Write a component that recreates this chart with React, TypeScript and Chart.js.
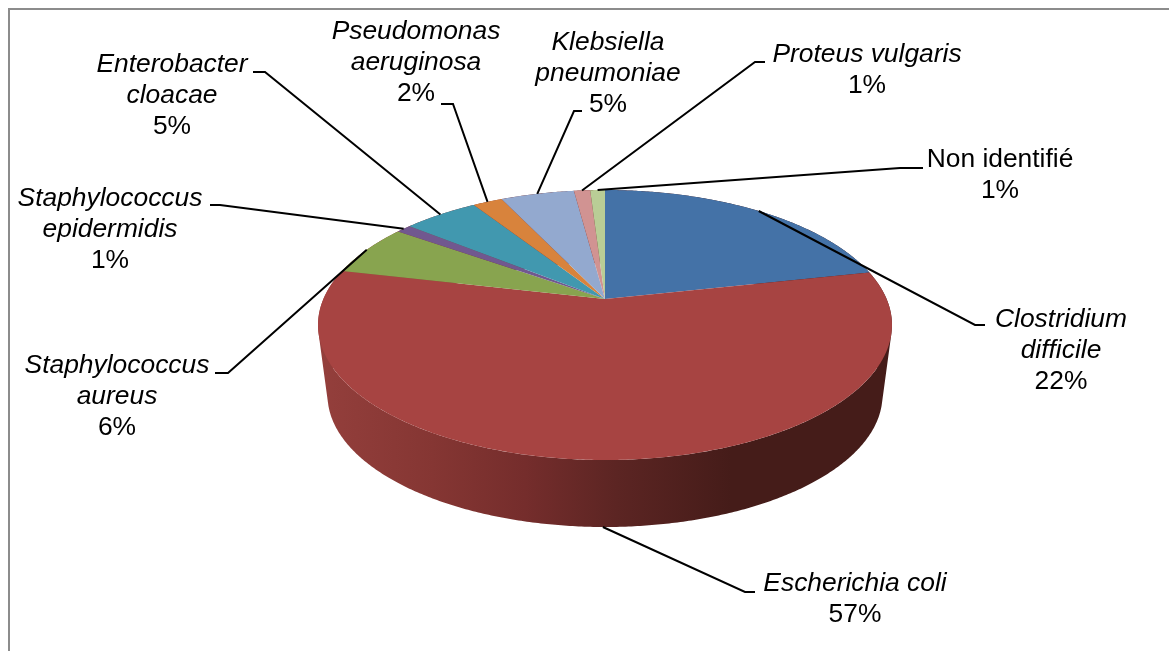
import React, { useEffect, useRef } from "react";
import { Chart, registerables } from "chart.js";

Chart.register(...registerables);

const categories = [
  ["Clostridium", "difficile"],
  ["Escherichia coli"],
  ["Staphylococcus", "aureus"],
  ["Staphylococcus", "epidermidis"],
  ["Enterobacter", "cloacae"],
  ["Pseudomonas", "aeruginosa"],
  ["Klebsiella", "pneumoniae"],
  ["Proteus vulgaris"],
  ["Non identifié"],
];
const values = [21.6, 57, 6.2, 1, 5.1, 2, 5, 1.1, 1];
const colors = ["#4472a7", "#a74442", "#88a44f", "#71588f", "#4198af", "#d8833c", "#93a9cf", "#d19392", "#b9cd96"];
const italics = [true, true, true, true, true, true, true, true, false];

// Label layout: centre x, first line centre y, leader elbow and leader end
const labelLayout = [
  { x: 1061, y: 319.5, ex: 975, ey: 325, tx: 985 },
  { x: 855, y: 583.5, ex: 745, ey: 592, tx: 755 },
  { x: 117, y: 365.5, ex: 228, ey: 373, tx: 215 },
  { x: 110, y: 198.5, ex: 220, ey: 205, tx: 210 },
  { x: 172, y: 64.5, ex: 265, ey: 72, tx: 253 },
  { x: 416, y: 31.5, ex: 453, ey: 104, tx: 441 },
  { x: 608, y: 42.5, ex: 574, ey: 111, tx: 582 },
  { x: 867, y: 54.5, ex: 755, ey: 62, tx: 765 },
  { x: 1000, y: 159.5, ex: 900, ey: 168, tx: 923 },
];

const K = 0.1926;
const TOP = { cx: 605, cy: 299, rx: 281.6, ry: 130 };
const BOTTOM = { cx: 605, cy: 369.7, rx: 272.3, ry: 127 };

function project(face: typeof TOP, angle: number) {
  const u = Math.cos(angle);
  const v = Math.sin(angle);
  const w = 1 - K * v;
  return { x: face.cx + (face.rx * u) / w, y: face.cy + (face.ry * v) / w };
}

function wallGradient(ctx: CanvasRenderingContext2D) {
  const g = ctx.createLinearGradient(318, 0, 892, 0);
  g.addColorStop(0, "#943f3c");
  g.addColorStop(0.2, "#853633");
  g.addColorStop(0.36, "#752d2c");
  g.addColorStop(0.52, "#5c2523");
  g.addColorStop(0.72, "#451c19");
  g.addColorStop(1, "#451c19");
  return g;
}

const pie3d = {
  id: "pie3d",
  beforeDatasetsDraw(chart: any) {
    const ctx: CanvasRenderingContext2D = chart.ctx;
    const arcs = chart.getDatasetMeta(0).data;
    ctx.save();

    // plot frame
    ctx.strokeStyle = "#8c8c8c";
    ctx.lineWidth = 2;
    ctx.beginPath();
    ctx.moveTo(9, 651);
    ctx.lineTo(9, 9);
    ctx.lineTo(1169, 9);
    ctx.stroke();

    // wall: strips between the top rim and the bottom rim, all wound the same way
    ctx.fillStyle = wallGradient(ctx);
    const STEPS = 720;
    ctx.beginPath();
    for (let i = 0; i < STEPS; i++) {
      const a = (i / STEPS) * Math.PI * 2;
      const b = ((i + 1) / STEPS) * Math.PI * 2;
      const quad = [project(TOP, a), project(TOP, b), project(BOTTOM, b), project(BOTTOM, a)];
      let area = 0;
      quad.forEach((p, j) => {
        const q = quad[(j + 1) % 4];
        area += p.x * q.y - q.x * p.y;
      });
      if (area < 0) quad.reverse();
      quad.forEach((p, j) => (j === 0 ? ctx.moveTo(p.x, p.y) : ctx.lineTo(p.x, p.y)));
      ctx.closePath();
    }
    ctx.fill("nonzero");

    // top face, one sector per arc element
    arcs.forEach((arc: any) => {
      const { startAngle, endAngle } = arc.getProps(["startAngle", "endAngle"], true);
      ctx.fillStyle = arc.options.backgroundColor;
      ctx.beginPath();
      ctx.moveTo(TOP.cx, TOP.cy);
      const n = Math.max(4, Math.ceil((endAngle - startAngle) * 120));
      for (let i = 0; i <= n; i++) {
        const p = project(TOP, startAngle + ((endAngle - startAngle) * i) / n);
        ctx.lineTo(p.x, p.y);
      }
      ctx.closePath();
      ctx.fill();
    });

    // leader lines
    ctx.strokeStyle = "#000";
    ctx.lineWidth = 2;
    arcs.forEach((arc: any, i: number) => {
      const { startAngle, endAngle } = arc.getProps(["startAngle", "endAngle"], true);
      const mid = (startAngle + endAngle) / 2;
      const face = Math.sin(mid) > 0 ? BOTTOM : TOP;
      const p = project(face, mid);
      const l = labelLayout[i];
      ctx.beginPath();
      ctx.moveTo(p.x, p.y);
      ctx.lineTo(l.ex, l.ey);
      ctx.lineTo(l.tx, l.ey);
      ctx.stroke();
    });

    // labels
    ctx.fillStyle = "#000";
    ctx.textAlign = "center";
    ctx.textBaseline = "middle";
    const total = values.reduce((s, v) => s + v, 0);
    categories.forEach((lines, i) => {
      const l = labelLayout[i];
      ctx.font = `${italics[i] ? "italic " : ""}26.4px "Liberation Sans"`;
      lines.forEach((t, j) => ctx.fillText(t, l.x, l.y + j * 31));
      ctx.font = '26.4px "Liberation Sans"';
      ctx.fillText(`${Math.round((values[i] / total) * 100)}%`, l.x, l.y + lines.length * 31);
    });

    ctx.restore();
    return false;
  },
};

export default function App() {
  const ref = useRef<HTMLCanvasElement>(null);
  useEffect(() => {
    const chart = new Chart(ref.current!, {
      type: "pie",
      data: {
        labels: categories.map((c) => c.join(" ")),
        datasets: [{ data: values, backgroundColor: colors, borderWidth: 0 }],
      },
      options: {
        animation: false,
        responsive: false,
        plugins: { legend: { display: false }, tooltip: { enabled: false } },
      },
      plugins: [pie3d],
    } as any);
    return () => chart.destroy();
  }, []);
  return (
    <canvas
      ref={ref}
      width={1169}
      height={651}
      style={{ position: "fixed", left: 0, top: 0, width: 1169, height: 651, background: "#fff" }}
    />
  );
}
